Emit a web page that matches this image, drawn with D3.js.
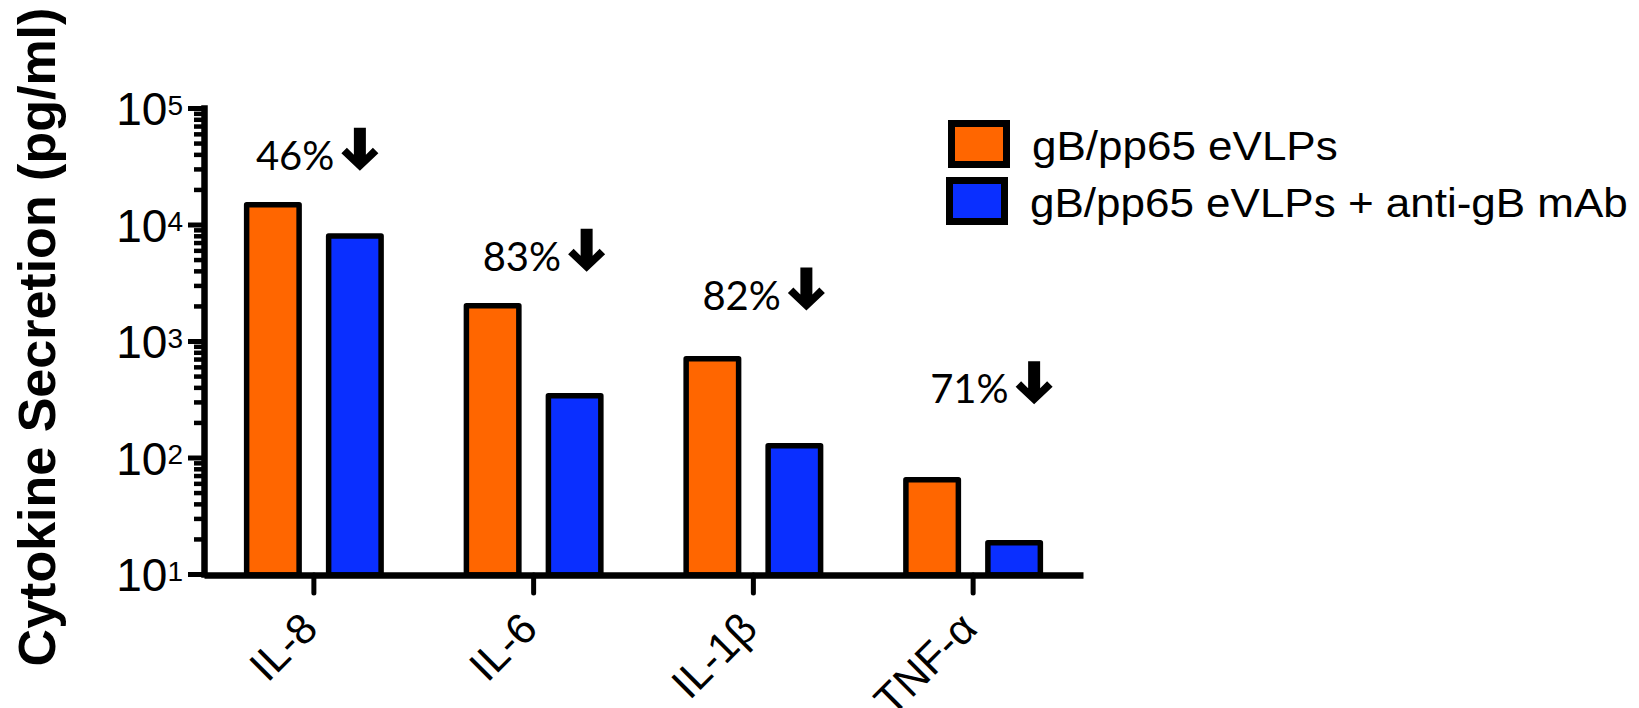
<!DOCTYPE html>
<html lang="en">
<head>
  <meta charset="UTF-8">
  <title>Cytokine Secretion</title>
  <script src="https://d3js.org/d3.v7.min.js"></script>
  <style type="text/css">
    body { margin: 0; background: #fff; }
    svg { display: block; }
    .axis path, .axis line { stroke: #000; }
    .axis text { font-family: "Liberation Sans", Arial, sans-serif; fill: #000; }
    .bar { stroke: #000; stroke-width: 5.5; stroke-linejoin: round; }
    .drop { font-family: Lato, "Open Sans", sans-serif; font-size: 40px; fill: #000; }
    .legend text { font-family: "Liberation Sans", Arial, sans-serif; font-size: 40px; fill: #000; }
  </style>
</head>
<body>
<script>

  // data
  var cytokines = ["IL-8", "IL-6", "IL-1β", "TNF-α"];
  var seriesNames = ["gB/pp65 eVLPs", "gB/pp65 eVLPs + anti-gB mAb"];
  var eVLPs = [15600, 2120, 743, 68];
  var eVLPsAntiGB = [8420, 358, 133, 19.6];
  var dropLabels = ["46%", "83%", "82%", "71%"];
  // level (in pg/ml) where each reduction label sits
  var dropLevels = [29500, 4000, 1860, 292];
  var yTickValues = [10, 100, 1000, 10000, 100000];
  var yTickExponents = ["1", "2", "3", "4", "5"];

  var colors = ["#ff6600", "#0a2fff"];

  var width = 1639, height = 708;

  var svg = d3.select("body").append("svg")
    .attr("width", width)
    .attr("height", height);

  // scales
  var xScale = d3.scaleBand()
    .domain(cytokines)
    .range([204, 1083]);

  var xSub = d3.scaleBand()
    .domain([0, 1])
    .range([-94, 94])
    .padding(0.293);

  var yScale = d3.scaleLog()
    .domain([10, 100000])
    .range([574, 108]);

  // minor ticks 2..9 of every decade
  var minorTicks = [];
  yTickValues.slice(0, -1).forEach(function(d) {
    for (var k = 2; k <= 9; k++) minorTicks.push(k * d);
  });

  var axisX = 204, axisY = 575;

  // minor y ticks
  svg.append("g")
    .attr("class", "axis")
    .attr("transform", "translate(" + axisX + ",0)")
    .call(d3.axisLeft(yScale).tickValues(minorTicks).tickSize(10).tickFormat(""))
    .call(function(g) { g.select(".domain").remove(); })
    .selectAll("line").attr("stroke-width", 4.5);

  // major y ticks + domain
  var yAxisG = svg.append("g")
    .attr("class", "axis")
    .attr("transform", "translate(" + axisX + ",0)")
    .call(d3.axisLeft(yScale).tickValues(yTickValues).tickSize(16).tickSizeOuter(0).tickPadding(5));

  yAxisG.select(".domain").attr("stroke-width", 6.5).attr("stroke-linecap", "square");
  yAxisG.selectAll(".tick line").attr("stroke-width", 5);

  yAxisG.selectAll(".tick text")
    .text(null)
    .attr("dy", "0.36em")
    .style("font-size", "46px")
    .each(function(d, i) {
      var t = d3.select(this);
      t.append("tspan").text("10");
      t.append("tspan")
        .attr("dy", "-0.36em")
        .style("font-size", "28px")
        .text(yTickExponents[i]);
    });

  // y title
  svg.append("text")
    .attr("transform", "translate(55,337) rotate(-90)")
    .attr("text-anchor", "middle")
    .style("font-family", "'Liberation Sans', Arial, sans-serif")
    .style("font-weight", "bold")
    .style("font-size", "52px")
    .text("Cytokine Secretion (pg/ml)");

  // bars
  var groups = svg.append("g").selectAll("g")
    .data(cytokines)
    .enter().append("g")
    .attr("transform", function(d) { return "translate(" + (xScale(d) + xScale.bandwidth() / 2) + ",0)"; });

  var sw = 5.5;
  groups.selectAll("rect")
    .data(function(d, i) { return [eVLPs[i], eVLPsAntiGB[i]]; })
    .enter().append("rect")
    .attr("class", "bar")
    .attr("x", function(d, j) { return xSub(j) + sw / 2; })
    .attr("width", xSub.bandwidth() - sw)
    .attr("y", function(d) { return yScale(d) + sw / 2; })
    .attr("height", function(d) { return axisY - yScale(d) - sw / 2; })
    .attr("fill", function(d, j) { return colors[j]; });

  // x axis
  var xAxisG = svg.append("g")
    .attr("class", "axis")
    .attr("transform", "translate(0," + axisY + ")")
    .call(d3.axisBottom(xScale).tickSize(18).tickSizeOuter(0));

  xAxisG.select(".domain").attr("stroke-width", 6.5);
  xAxisG.selectAll(".tick line").attr("stroke-width", 5).attr("stroke-linecap", "round");
  xAxisG.selectAll(".tick text")
    .attr("x", 0).attr("y", 0).attr("dy", 0)
    .attr("text-anchor", "end")
    .attr("transform", "translate(6,56) rotate(-45)")
    .style("font-size", "43px");

  // reduction labels with down arrows
  var dropNudge = [-58, -51, -51, -43];
  var arrowPath = "M-6,-42H6V-15L13,-22L18.5,-16.5L0,1L-18.5,-16.5L-13,-22L-6,-15Z";

  var drops = svg.append("g").selectAll("g")
    .data(cytokines)
    .enter().append("g")
    .attr("transform", function(d, i) {
      return "translate(" + (xScale(d) + xScale.bandwidth() / 2 + dropNudge[i]) + "," + yScale(dropLevels[i]) + ")";
    });

  drops.append("text")
    .attr("class", "drop")
    .text(function(d, i) { return dropLabels[i]; });

  drops.append("path")
    .attr("d", arrowPath)
    .attr("transform", "translate(104,0)")
    .attr("fill", "#000");

  // legend
  var legend = svg.append("g")
    .attr("class", "legend")
    .attr("transform", "translate(948,120)");

  var items = legend.selectAll("g")
    .data(seriesNames)
    .enter().append("g")
    .attr("transform", function(d, i) { return "translate(" + (-2 * i) + "," + (57 * i) + ")"; });

  items.append("rect")
    .attr("x", 3.5).attr("y", 3.5)
    .attr("width", 55).attr("height", 41)
    .attr("fill", function(d, i) { return colors[i]; })
    .attr("stroke", "#000")
    .attr("stroke-width", 7);

  // the source text is set slightly wide
  items.append("text")
    .attr("transform", "translate(84,40) scale(1.1,1)")
    .text(function(d) { return d; });

</script>
</body>
</html>
